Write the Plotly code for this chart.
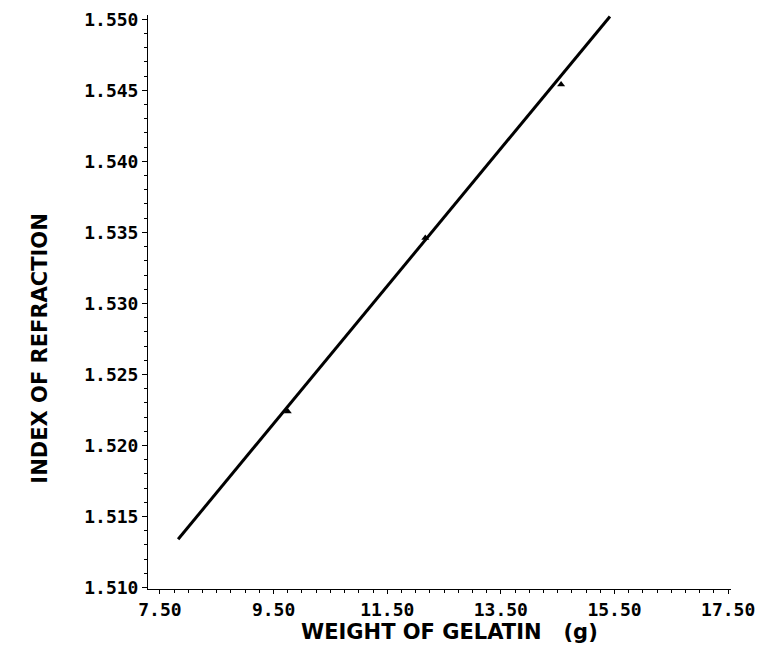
import plotly.graph_objects as go

# measured data points (weight of gelatin in g, index of refraction)
weight_g = [9.75, 12.17, 14.56]
refractive_index = [1.5224, 1.5346, 1.5454]

# fitted straight line end points
fit_weight = [7.82, 15.42]
fit_index = [1.5134, 1.5502]

x_tick_vals = [7.5, 9.5, 11.5, 13.5, 15.5, 17.5]
x_tick_text = ["7.50", "9.50", "11.50", "13.50", "15.50", "17.50"]
y_tick_vals = [1.510, 1.515, 1.520, 1.525, 1.530, 1.535, 1.540, 1.545, 1.550]
y_tick_text = ["1.510", "1.515", "1.520", "1.525", "1.530", "1.535", "1.540", "1.545", "1.550"]

fig = go.Figure()
fig.add_trace(go.Scatter(x=fit_weight, y=fit_index, mode="lines",
                         line=dict(color="black", width=3), showlegend=False))
fig.add_trace(go.Scatter(x=weight_g, y=refractive_index, mode="markers",
                         marker=dict(color="black", size=7, symbol="triangle-up"),
                         showlegend=False))

tick_font = dict(family="DejaVu Sans Mono", size=18, color="black", weight="bold")
title_font = dict(family="DejaVu Sans", size=21, color="black", weight="bold")

# page body adds an 8px margin, so the figure is sized to fit the window
fig.update_layout(
    width=759, height=637,
    margin=dict(l=140, r=36, t=7, b=56),
    paper_bgcolor="white", plot_bgcolor="white",
    xaxis=dict(range=[7.29, 17.55], tickvals=x_tick_vals, ticktext=x_tick_text,
               automargin=False, ticklabeloverflow="allow",
               showgrid=False, zeroline=False, showline=True, linecolor="black",
               linewidth=1, ticks="outside", ticklen=4, tickcolor="black",
               minor=dict(dtick=0.25, ticks="outside", ticklen=3, tickcolor="black"),
               tickfont=tick_font),
    yaxis=dict(range=[1.5099, 1.5503], tickvals=y_tick_vals, ticktext=y_tick_text,
               automargin=False, ticklabeloverflow="allow",
               showgrid=False, zeroline=False, showline=True, linecolor="black",
               linewidth=1, ticks="outside", ticklen=5, tickcolor="black",
               minor=dict(dtick=0.001, ticks="outside", ticklen=3, tickcolor="black"),
               tickfont=tick_font),
    annotations=[
        dict(text="INDEX OF REFRACTION", xref="paper", yref="paper",
             x=-0.185, y=0.419, xanchor="center", yanchor="middle",
             textangle=-90, showarrow=False, font=title_font),
        dict(text="WEIGHT OF GELATIN   (g)", xref="paper", yref="paper",
             x=0.518, y=-0.075, xanchor="center", yanchor="middle",
             showarrow=False, font=title_font),
    ],
)

fig.write_html("out.html")
